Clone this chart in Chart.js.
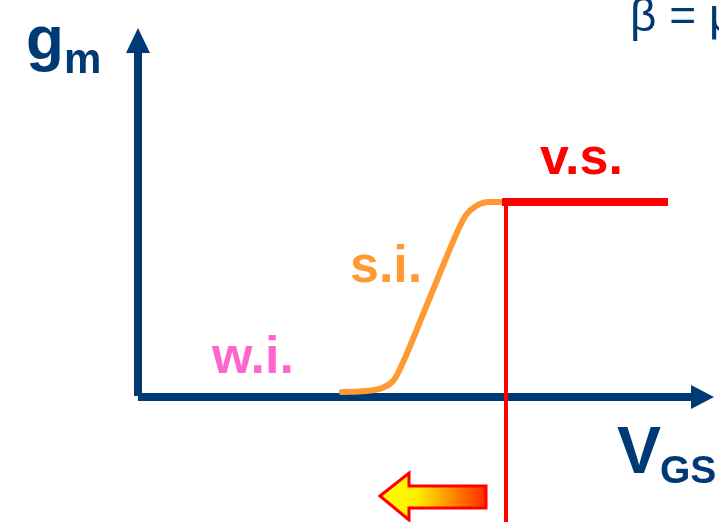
<!DOCTYPE html>
<html>
<head>
<meta charset="utf-8">
<script src="https://cdn.jsdelivr.net/npm/chart.js@4"></script>
<style>
  body { margin: 0; background: #fff; }
  canvas { display: block; }
</style>
</head>
<body>
<canvas id="chart" width="719" height="522"></canvas>
<script>
// g_m versus V_GS, both in arbitrary units (origin at the axes corner)
const curveVgs = [204, 227, 244, 255, 261, 291.5, 322, 328, 338, 351, 364]
const curveGm  = [5, 6, 9, 16, 26, 98.5, 171, 182, 191, 195, 195]

const satVgs = [364, 530]
const satGm  = [195, 195]

const vthVgs = [368, 368]
const vthGm  = [195, -125]

const xAxisVgs = [0, 556]
const yAxisGm  = [1, 346]

const BLUE = '#003a75'
const RED = '#ff0000'
const ORANGE = '#ff9933'
const PINK = '#ff66cc'

const labels = [
  { text: 'v.s.', x: 402, y: 223, font: 'bold 52px "Liberation Sans"', color: RED },
  { text: 's.i.', x: 212, y: 115, font: 'bold 52px "Liberation Sans"', color: ORANGE },
  { text: 'w.i.', x: 74, y: 24, font: 'bold 52px "Liberation Sans"', color: PINK },
  { text: 'g', x: -112, y: 338, font: 'bold 62px "Liberation Sans"', color: BLUE },
  { text: 'm', x: -74, y: 324, font: 'bold 42px "Liberation Sans"', color: BLUE },
  { text: 'V', x: 479, y: -76, font: 'bold 66px "Liberation Sans"', color: BLUE },
  { text: 'GS', x: 522, y: -86, font: 'bold 39px "Liberation Sans"', color: BLUE },
  { text: 'β = μ', x: 492, y: 366, font: '46px "Liberation Sans"', color: BLUE }
]

function pts(xs, ys) {
  return xs.map((x, i) => ({ x: x, y: ys[i] }))
}

const decorations = {
  id: 'decorations',
  afterDatasetsDraw(chart) {
    const ctx = chart.ctx
    const sx = chart.scales.x
    const sy = chart.scales.y
    const px = v => sx.getPixelForValue(v)
    const py = v => sy.getPixelForValue(v)

    ctx.save()
    // axis arrow heads
    ctx.fillStyle = BLUE
    ctx.beginPath()
    ctx.moveTo(px(553), py(12))
    ctx.lineTo(px(576), py(0))
    ctx.lineTo(px(553), py(-12))
    ctx.closePath()
    ctx.fill()
    ctx.beginPath()
    ctx.moveTo(px(-12), py(344))
    ctx.lineTo(px(0), py(369))
    ctx.lineTo(px(12), py(344))
    ctx.closePath()
    ctx.fill()

    // gradient arrow pointing left
    const g = ctx.createLinearGradient(px(242), 0, px(348), 0)
    g.addColorStop(0, '#ffff00')
    g.addColorStop(0.35, '#ffee00')
    g.addColorStop(1, '#ff2a00')
    ctx.beginPath()
    ctx.moveTo(px(242), py(-99))
    ctx.lineTo(px(271), py(-76))
    ctx.lineTo(px(271), py(-89))
    ctx.lineTo(px(348), py(-89))
    ctx.lineTo(px(348), py(-111))
    ctx.lineTo(px(271), py(-111))
    ctx.lineTo(px(271), py(-123))
    ctx.closePath()
    ctx.fillStyle = g
    ctx.fill()
    ctx.lineWidth = 3
    ctx.strokeStyle = RED
    ctx.lineJoin = 'miter'
    ctx.stroke()

    // text
    ctx.textBaseline = 'alphabetic'
    ctx.textAlign = 'left'
    labels.forEach(l => {
      ctx.font = l.font
      ctx.fillStyle = l.color
      ctx.fillText(l.text, px(l.x), py(l.y))
    })
    ctx.restore()
  }
}

new Chart(document.getElementById('chart'), {
  type: 'scatter',
  data: {
    datasets: [{
      data: pts(satVgs, satGm),
      showLine: true,
      borderColor: RED,
      borderWidth: 8,
      borderCapStyle: 'butt',
      pointRadius: 0,
      order: 0
    }, {
      data: pts(vthVgs, vthGm),
      showLine: true,
      borderColor: RED,
      borderWidth: 4,
      pointRadius: 0,
      order: 0
    }, {
      data: pts(curveVgs, curveGm),
      showLine: true,
      borderColor: ORANGE,
      borderWidth: 6,
      cubicInterpolationMode: 'monotone',
      borderCapStyle: 'round',
      pointRadius: 0,
      order: 1
    }, {
      data: pts(xAxisVgs, [0, 0]),
      showLine: true,
      borderColor: BLUE,
      borderWidth: 8,
      pointRadius: 0,
      order: 2
    }, {
      data: pts([0, 0], yAxisGm),
      showLine: true,
      borderColor: BLUE,
      borderWidth: 8,
      pointRadius: 0,
      order: 2
    }]
  },
  options: {
    responsive: false,
    animation: false,
    layout: { padding: 0 },
    plugins: { legend: { display: false }, tooltip: { enabled: false } },
    scales: {
      x: { type: 'linear', min: -138, max: 581, display: false },
      y: { type: 'linear', min: -125, max: 397, display: false }
    }
  },
  plugins: [decorations]
})
</script>
</body>
</html>
